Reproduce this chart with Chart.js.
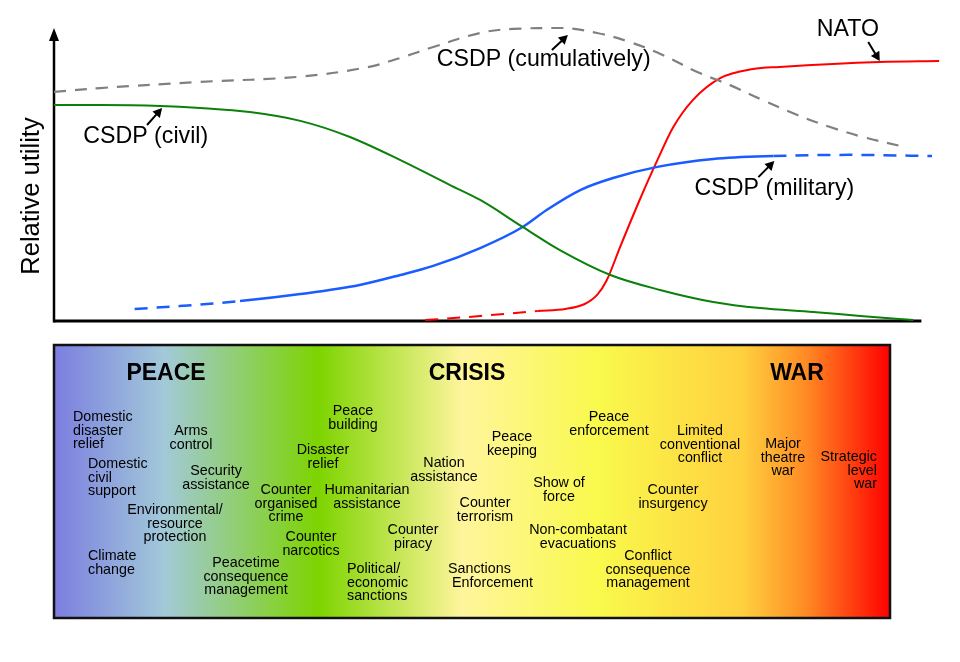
<!DOCTYPE html>
<html>
<head>
<meta charset="utf-8">
<title>Relative utility of CSDP and NATO</title>
<script src="https://cdn.jsdelivr.net/npm/chart.js@4.4.1/dist/chart.umd.min.js"></script>
<style>
  body { margin: 0; background: #fff; }
  #wrap { width: 960px; height: 662px; }
</style>
</head>
<body>
<div id="wrap"><canvas id="chart" width="960" height="662"></canvas></div>
<script>
// x = position on the peace -> war spectrum (0-100), y = relative utility (0-100)
const civilX = [0, 5.2, 12.0, 16.5, 22.1, 27.8, 33.4, 39.1, 44.7, 48.1, 52.9, 57.1, 62.8, 68.4, 74.4, 79.7, 85.7, 91.0, 97.0];
const civilY = [73.7, 73.7, 73.4, 72.7, 71.3, 68.3, 62.8, 54.9, 46.4, 41.3, 32.1, 24.2, 15.7, 10.6, 6.5, 4.4, 3.1, 1.7, 0.3];

const militaryX = [9.1, 14.2, 21.0, 27.8, 34.5, 39.1, 42.8, 48.1, 52.9, 55.6, 59.4, 63.1, 68.1, 74.4, 81.2, 89.8, 99.1];
const militaryY = [4.1, 5.1, 6.8, 9.2, 12.3, 15.7, 18.8, 24.9, 32.1, 37.9, 44.7, 48.8, 52.6, 55.3, 56.3, 56.7, 56.3];

const natoX = [41.9, 48.1, 54.6, 57.7, 59.9, 61.3, 62.4, 63.9, 66.1, 68.1, 69.9, 72.1, 75.2, 78.9, 81.9, 93.2, 99.9];
const natoY = [0.3, 1.7, 3.4, 4.1, 5.8, 8.9, 14.0, 25.3, 41.3, 54.9, 66.2, 75.4, 82.9, 86.0, 86.7, 88.4, 88.7];

const cumulX = [0, 5.2, 16.5, 27.8, 35.3, 39.1, 42.8, 48.1, 51.8, 57.4, 61.3, 65.0, 68.7, 72.6, 76.3, 80.0, 83.9, 87.6, 91.3, 96.0];
const cumulY = [78.2, 79.5, 81.6, 83.4, 86.6, 89.8, 93.5, 98.3, 99.7, 100.0, 98.3, 95.2, 90.8, 85.0, 80.5, 75.4, 70.3, 66.2, 62.8, 59.4];

// index ranges where the military / NATO curves are only projected (dashed)
const militaryDashBefore = 2, militaryDashFrom = 14;
const natoDashBefore = 2;

const xAxisEnd = 97.9;

// curve labels: text, text anchor, arrow tail, arrow tip (data units)
const notes = [
  { text: 'CSDP (civil)',        at: [3.3, 63.1],  tail: [10.5, 66.9], tip: [12.2, 72.7] },
  { text: 'CSDP (cumulatively)', at: [43.2, 89.1], tail: [56.2, 92.5], tip: [58.0, 97.6] },
  { text: 'NATO',                at: [86.1, 99.3], tail: [91.9, 95.2], tip: [93.2, 88.7] },
  { text: 'CSDP (military)',     at: [72.3, 45.1], tail: [79.5, 49.1], tip: [81.3, 54.6] }
];

// spectrum box underneath
const phases = ['PEACE', 'CRISIS', 'WAR'];
const phaseX = [166, 467, 797];

const activities = [
  ['Domestic', 'disaster', 'relief'],
  ['Arms', 'control'],
  ['Domestic', 'civil', 'support'],
  ['Security', 'assistance'],
  ['Environmental/', 'resource', 'protection'],
  ['Climate', 'change'],
  ['Peacetime', 'consequence', 'management'],
  ['Peace', 'building'],
  ['Disaster', 'relief'],
  ['Counter', 'organised', 'crime'],
  ['Humanitarian', 'assistance'],
  ['Counter', 'narcotics'],
  ['Political/', 'economic', 'sanctions'],
  ['Counter', 'piracy'],
  ['Nation', 'assistance'],
  ['Counter', 'terrorism'],
  ['Sanctions', ' Enforcement'],
  ['Peace', 'keeping'],
  ['Show of', 'force'],
  ['Non-combatant', 'evacuations'],
  ['Peace', 'enforcement'],
  ['Limited', 'conventional', 'conflict'],
  ['Counter', 'insurgency'],
  ['Conflict', 'consequence', 'management'],
  ['Major', 'theatre', 'war'],
  ['Strategic', 'level', 'war']
];
// x, first line y, alignment
const activityLayout = [
  [73, 417, 'left'], [191, 431, 'center'], [88, 464, 'left'], [216, 471, 'center'],
  [175, 510, 'center'], [88, 556, 'left'], [246, 563, 'center'], [353, 411, 'center'],
  [323, 450, 'center'], [286, 490, 'center'], [367, 490, 'center'], [311, 537, 'center'],
  [347, 569, 'left'], [413, 530, 'center'], [444, 463, 'center'], [485, 503, 'center'],
  [448, 569, 'left'], [512, 437, 'center'], [559, 483, 'center'], [578, 530, 'center'],
  [609, 417, 'center'], [700, 431, 'center'], [673, 490, 'center'], [648, 556, 'center'],
  [783, 444, 'center'], [877, 457, 'right']
];

const spectrumStops = [
  [0, '#7b7ee0'], [0.132, '#a2c9d9'], [0.316, '#7dd400'], [0.489, '#fff59c'],
  [0.651, '#f9f94c'], [0.824, '#ffd03e'], [0.9, '#ff8a24'], [1, '#ff0000']
];

const FONT = '"Liberation Sans", Arial, sans-serif';

function pts(xs, ys) {
  return xs.map((x, i) => ({ x: x, y: ys[i] }));
}

function arrow(ctx, x0, y0, x1, y1, head) {
  const a = Math.atan2(y1 - y0, x1 - x0);
  ctx.beginPath();
  ctx.moveTo(x0, y0);
  ctx.lineTo(x1 - Math.cos(a) * head * 0.8, y1 - Math.sin(a) * head * 0.8);
  ctx.stroke();
  ctx.beginPath();
  ctx.moveTo(x1, y1);
  ctx.lineTo(x1 - head * Math.cos(a) + head * 0.55 * Math.sin(a), y1 - head * Math.sin(a) - head * 0.55 * Math.cos(a));
  ctx.lineTo(x1 - head * Math.cos(a) - head * 0.55 * Math.sin(a), y1 - head * Math.sin(a) + head * 0.55 * Math.cos(a));
  ctx.closePath();
  ctx.fill();
}

const decorations = {
  id: 'decorations',
  beforeDatasetsDraw(chart) {
    const { ctx, chartArea: ca, scales: { x } } = chart;
    ctx.save();
    ctx.strokeStyle = '#000';
    ctx.fillStyle = '#000';
    ctx.lineWidth = 3;
    // x axis
    ctx.beginPath();
    ctx.moveTo(ca.left, ca.bottom);
    ctx.lineTo(x.getPixelForValue(xAxisEnd), ca.bottom);
    ctx.stroke();
    // y axis with arrow
    ctx.lineWidth = 2.5;
    ctx.beginPath();
    ctx.moveTo(ca.left, ca.bottom + 1.5);
    ctx.lineTo(ca.left, ca.top + 8);
    ctx.stroke();
    ctx.beginPath();
    ctx.moveTo(ca.left, ca.top);
    ctx.lineTo(ca.left - 5, ca.top + 13);
    ctx.lineTo(ca.left + 5, ca.top + 13);
    ctx.closePath();
    ctx.fill();
    // y title
    ctx.translate(ca.left - 22, ca.bottom - 125);
    ctx.rotate(-Math.PI / 2);
    ctx.font = '25.5px ' + FONT;
    ctx.textAlign = 'center';
    ctx.textBaseline = 'middle';
    ctx.fillText('Relative utility', 0, 0);
    ctx.restore();
  },
  afterDraw(chart) {
    const { ctx, scales: { x, y } } = chart;
    ctx.save();
    // curve labels
    ctx.fillStyle = '#000';
    ctx.strokeStyle = '#000';
    ctx.lineWidth = 2;
    ctx.font = '23.2px ' + FONT;
    ctx.textAlign = 'left';
    ctx.textBaseline = 'middle';
    notes.forEach(n => {
      ctx.fillText(n.text, x.getPixelForValue(n.at[0]), y.getPixelForValue(n.at[1]));
      arrow(ctx, x.getPixelForValue(n.tail[0]), y.getPixelForValue(n.tail[1]),
        x.getPixelForValue(n.tip[0]), y.getPixelForValue(n.tip[1]), 9);
    });

    // spectrum box
    const bx = 54, by = 345, bw = 836, bh = 273;
    const g = ctx.createLinearGradient(bx, 0, bx + bw, 0);
    spectrumStops.forEach(s => g.addColorStop(s[0], s[1]));
    ctx.fillStyle = g;
    ctx.fillRect(bx, by, bw, bh);
    ctx.lineWidth = 2.5;
    ctx.strokeStyle = '#111';
    ctx.strokeRect(bx, by, bw, bh);

    ctx.fillStyle = '#000';
    ctx.font = 'bold 23px ' + FONT;
    ctx.textAlign = 'center';
    phases.forEach((p, i) => ctx.fillText(p, phaseX[i], 374));

    ctx.font = '14.3px ' + FONT;
    activities.forEach((lines, i) => {
      const [ax, ay, align] = activityLayout[i];
      ctx.textAlign = align;
      lines.forEach((l, k) => ctx.fillText(l, ax, ay + k * 13.6));
    });
    ctx.restore();
  }
};

new Chart(document.getElementById('chart'), {
  type: 'line',
  data: {
    datasets: [
      {
        label: 'CSDP (cumulatively)',
        data: pts(cumulX, cumulY),
        borderColor: '#808080',
        borderWidth: 2.2,
        borderDash: [12, 9],
        cubicInterpolationMode: 'default',
        tension: 0.4
      },
      {
        label: 'CSDP (civil)',
        data: pts(civilX, civilY),
        borderColor: '#0b800b',
        borderWidth: 2
      },
      {
        label: 'CSDP (military)',
        data: pts(militaryX, militaryY),
        borderColor: '#1a5cff',
        borderWidth: 2.5,
        segment: {
          borderDash: c => (c.p0DataIndex < militaryDashBefore || c.p0DataIndex >= militaryDashFrom) ? [13, 9] : []
        }
      },
      {
        label: 'NATO',
        data: pts(natoX, natoY),
        borderColor: '#ff0000',
        borderWidth: 2,
        segment: {
          borderDash: c => c.p0DataIndex < natoDashBefore ? [13, 9] : []
        }
      }
    ]
  },
  options: {
    responsive: false,
    animation: false,
    devicePixelRatio: 1,
    layout: { padding: { left: 54, right: 20, top: 28, bottom: 341 } },
    elements: {
      point: { radius: 0 },
      line: { cubicInterpolationMode: 'monotone', fill: false }
    },
    clip: false,
    scales: {
      x: { type: 'linear', min: 0, max: 100, display: false },
      y: { min: 0, max: 100, display: false }
    },
    plugins: {
      legend: { display: false },
      tooltip: { enabled: false }
    }
  },
  plugins: [decorations]
});
</script>
</body>
</html>
